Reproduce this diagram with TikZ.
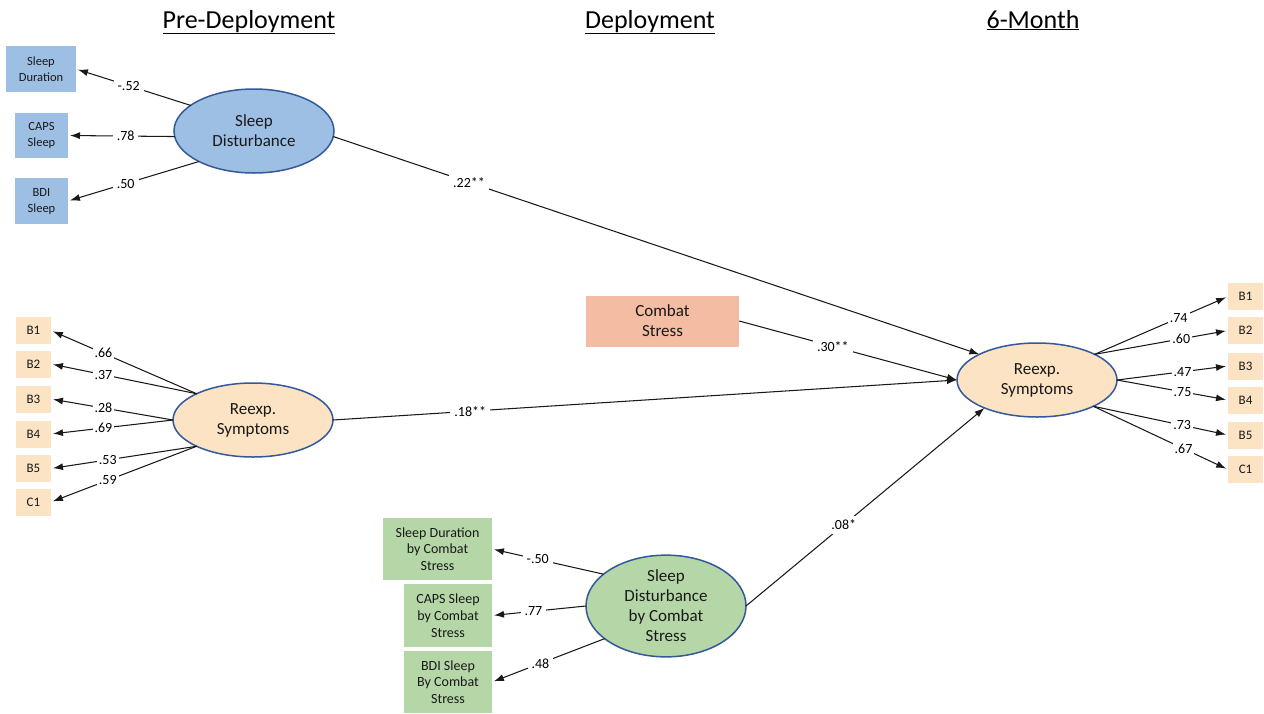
\documentclass[tikz,border=0pt]{standalone}
\usepackage{fontspec}
\setmainfont{Carlito}
\usetikzlibrary{shapes.geometric,arrows.meta}
\definecolor{bluefill}{HTML}{9DBFE4}
\definecolor{edgeblue}{HTML}{34599A}
\definecolor{tanfill}{HTML}{FBE3C4}
\definecolor{greenfill}{HTML}{B5D6A6}
\definecolor{salmonfill}{HTML}{F4BCA2}
\begin{document}
\begin{tikzpicture}[x=1pt,y=-1pt,
  lat/.style={ellipse, draw=edgeblue, line width=1.5pt, minimum width=160pt, inner sep=0pt, outer sep=0pt, align=center, font=\fontsize{17}{20}\selectfont, text=black!90},
  bluebox/.style={rectangle, fill=bluefill, inner sep=0pt, outer sep=0pt, align=center, font=\fontsize{12.5}{16}\selectfont, text=black!90},
  tanbox/.style={rectangle, fill=tanfill, minimum width=35pt, minimum height=27pt, inner sep=0pt, outer sep=0pt, font=\fontsize{13}{16}\selectfont, text=black!90},
  greenbox/.style={rectangle, fill=greenfill, inner sep=0pt, outer sep=0pt, align=center, font=\fontsize{14}{16.7}\selectfont, text=black!90},
  arr/.style={draw=black!90, line width=1.05pt, -{Latex[length=10pt,width=7pt]}, shorten >=2pt},
  coef/.style={fill=white, inner sep=4pt, font=\fontsize{14}{16}\selectfont, text=black},
  head/.style={anchor=base, font=\fontsize{26}{30}\selectfont, text=black}
]
\useasboundingbox (0,0) rectangle (1264,713);
\fill[white] (0,0) rectangle (1264,713);

% headers
\node[head] (h1) at (249,28) {\underline{Pre-Deployment}};
\node[head] (h2) at (650,28) {\underline{Deployment}};
\node[head] (h3) at (1033,28) {\underline{6-Month}};

% pre-deployment sleep
\node[lat, fill=bluefill, minimum height=84pt] (sd) at (254,131) {Sleep\\Disturbance};
\node[bluebox, minimum width=70pt, minimum height=46pt] (sdur) at (41,69) {Sleep\\Duration};
\node[bluebox, minimum width=53pt, minimum height=45pt] (caps) at (41.5,135.5) {CAPS\\Sleep};
\node[bluebox, minimum width=53pt, minimum height=46pt] (bdi) at (41.5,201) {BDI\\Sleep};

% pre-deployment reexp
\node[lat, fill=tanfill, minimum height=74pt] (rl) at (253,420) {Reexp.\\Symptoms};
\node[tanbox] (lb1) at (33.5,330.5) {B1};
\node[tanbox] (lb2) at (33.5,364) {B2};
\node[tanbox] (lb3) at (33.5,399) {B3};
\node[tanbox] (lb4) at (33.5,434) {B4};
\node[tanbox] (lb5) at (33.5,468.5) {B5};
\node[tanbox] (lc1) at (33.5,502) {C1};

% deployment
\node[rectangle, fill=salmonfill, minimum width=153pt, minimum height=51pt, align=center, font=\fontsize{17}{20}\selectfont, text=black!90] (cs) at (662.5,321) {Combat\\Stress};
\node[lat, fill=greenfill, minimum height=86pt] (gs) at (666,606) {Sleep\\Disturbance\\by Combat\\Stress};
\node[greenbox, minimum width=109pt, minimum height=62pt] (g1) at (437.5,549) {Sleep Duration\\by Combat\\Stress};
\node[greenbox, minimum width=88pt, minimum height=63pt] (g2) at (448,615.5) {CAPS Sleep\\by Combat\\Stress};
\node[greenbox, minimum width=88pt, minimum height=62pt] (g3) at (448,682) {BDI Sleep\\By Combat\\Stress};

% 6-month
\node[lat, fill=tanfill, minimum height=74pt] (rr) at (1037,380) {Reexp.\\Symptoms};
\node[tanbox] (rb1) at (1245.5,296.5) {B1};
\node[tanbox] (rb2) at (1245.5,330.5) {B2};
\node[tanbox] (rb3) at (1245.5,366) {B3};
\node[tanbox] (rb4) at (1245.5,400) {B4};
\node[tanbox] (rb5) at (1245.5,435) {B5};
\node[tanbox] (rc1) at (1245.5,469.5) {C1};

% loadings: sleep disturbance
\draw[arr] (sd.158) -- node[coef, pos=0.54] {-.52} (sdur.east);
\draw[arr] (sd.184) -- node[coef, pos=0.46] {.78} (caps.east);
\draw[arr] (sd.209) -- node[coef, pos=0.56] {.50} (bdi.east);

% loadings: left reexp
\draw[arr] (rl.155) -- node[coef, pos=0.64, inner sep=2pt] {.66} (lb1.east);
\draw[arr] (rl.155) -- node[coef, pos=0.64, inner sep=2pt] {.37} (lb2.east);
\draw[arr] (rl.180) -- node[coef, pos=0.57, inner sep=2pt] {.28} (lb3.east);
\draw[arr] (rl.180) -- node[coef, pos=0.57, inner sep=2pt] {.69} (lb4.east);
\draw[arr] (rl.205) -- node[coef, pos=0.61, inner sep=2pt] {.53} (lb5.east);
\draw[arr] (rl.205) -- node[coef, pos=0.61, inner sep=2pt] {.59} (lc1.east);

% loadings: right reexp
\draw[arr] (rr.24) -- node[coef, pos=0.63, inner sep=2pt] {.74} (rb1.west);
\draw[arr] (rr.24) -- node[coef, pos=0.65, inner sep=2pt] {.60} (rb2.west);
\draw[arr] (rr.0) -- node[coef, pos=0.59, inner sep=2pt] {.47} (rb3.west);
\draw[arr] (rr.0) -- node[coef, pos=0.59, inner sep=2pt] {.75} (rb4.west);
\draw[arr] (rr.335) -- node[coef, pos=0.66, inner sep=2pt] {.73} (rb5.west);
\draw[arr] (rr.335) -- node[coef, pos=0.67, inner sep=2pt] {.67} (rc1.west);

% loadings: green
\draw[arr] (gs.153) -- node[coef, pos=0.59] {-.50} (g1.east);
\draw[arr] (gs.180) -- node[coef, pos=0.56] {.77} (g2.east);
\draw[arr] (gs.208) -- node[coef, pos=0.57] {.48} (g3.east);

% structural paths
\draw[arr, shorten >=0pt] (sd.356) -- node[coef, pos=0.21] {.22**} (rr.156);
\draw[arr, shorten >=0pt] (rl.east) -- node[coef, pos=0.22] {.18**} (rr.west);
\draw[arr, shorten >=0pt] (cs.east) -- node[coef, pos=0.43] {.30**} (rr.west);
\draw[arr, shorten >=0pt] (gs.east) -- node[coef, pos=0.41] {.08*} (rr.208);
\end{tikzpicture}
\end{document}
